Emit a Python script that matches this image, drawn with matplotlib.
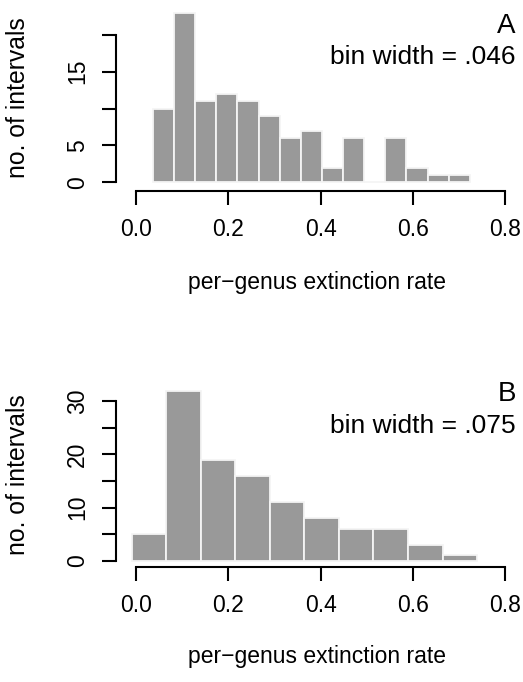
import numpy as np
import matplotlib
matplotlib.use("Agg")
import matplotlib.pyplot as plt

# ---------------- data ----------------
edges_a = [0.0365, 0.0823, 0.1281, 0.1739, 0.2197, 0.2655, 0.3113, 0.3571,
           0.4029, 0.4487, 0.4945, 0.5403, 0.5861, 0.6319, 0.6777, 0.7235]
counts_a = [10, 23, 11, 12, 11, 9, 6, 7, 2, 6, 0, 6, 2, 1, 1]

edges_b = [-0.009, 0.0658, 0.1406, 0.2154, 0.2902, 0.365, 0.4398, 0.5146,
           0.5894, 0.6642, 0.739]
counts_b = [5, 32, 19, 16, 11, 8, 6, 6, 3, 1]

x_ticks = [0.0, 0.2, 0.4, 0.6, 0.8]
x_ticklabels = ["0.0", "0.2", "0.4", "0.6", "0.8"]
y_ticks_a = [0, 5, 10, 15, 20]
y_ticklabels_a = ["0", "5", "", "15", ""]
y_ticks_b = [0, 5, 10, 15, 20, 25, 30]
y_ticklabels_b = ["0", "", "10", "", "20", "", "30"]

panel_letters = ["A", "B"]
bin_texts = ["bin width = .046", "bin width = .075"]
xlabel = "per\u2212genus extinction rate"
ylabel = "no. of intervals"

# ---------------- style ----------------
plt.rcParams['font.family'] = ['Liberation Sans', 'DejaVu Sans']
W, H, DPI = 523, 682, 100
fig = plt.figure(figsize=(W / DPI, H / DPI), dpi=DPI)

BAR = '#999999'
TICK_FS = 16.5
XLAB_FS = 16.5
YLAB_FS = 17.8

# layout in pixels (left, right, top, bottom) and data limits
xlim = (-0.0433, 0.828)
px_left = 116.0
px_right = 136 + 461.5 * 0.828

panels = [
    dict(edges=edges_a, counts=counts_a, yt=y_ticks_a, ytl=y_ticklabels_a,
         ylim=(-1.18, 24.0), top=5.2, bottom=191.0, ybound=(0, 20),
         ly=20.3, by=16.0, xlab_base=289.0),
    dict(edges=edges_b, counts=counts_b, yt=y_ticks_b, ytl=y_ticklabels_b,
         ylim=(-1.24, 33.5), top=382.8, bottom=567.3, ybound=(0, 30),
         ly=30.0, by=24.0, xlab_base=663.0),
]

for i, p in enumerate(panels):
    ax = fig.add_axes([px_left / W, 1 - p['bottom'] / H,
                       (px_right - px_left) / W, (p['bottom'] - p['top']) / H])
    e = np.array(p['edges'])
    ax.bar(e[:-1], p['counts'], width=np.diff(e), align='edge',
           color=BAR, edgecolor='#f4f4f4', linewidth=1.3)
    ax.set_xlim(*xlim)
    ax.set_ylim(*p['ylim'])
    for s in ['top', 'right']:
        ax.spines[s].set_visible(False)
    for s in ['left', 'bottom']:
        ax.spines[s].set_linewidth(1.5)
    ax.spines['bottom'].set_bounds(0, 0.8)
    ax.spines['left'].set_bounds(*p['ybound'])
    ax.set_xticks(x_ticks)
    ax.set_xticklabels(x_ticklabels)
    ax.set_yticks(p['yt'])
    ax.set_yticklabels(p['ytl'], rotation=90, va='center')
    ax.tick_params(direction='out', length=10, width=1.5, pad=9.5,
                   labelsize=TICK_FS, colors='black')

    ax.set_xlabel(xlabel, fontsize=XLAB_FS)
    hA = p['bottom'] - p['top']
    ax.xaxis.set_label_coords(0.5, (p['bottom'] - p['xlab_base']) / hA)
    ax.xaxis.label.set_va('baseline')

    ax.set_ylabel(ylabel, fontsize=YLAB_FS)
    ax.yaxis.set_label_coords((25.5 - px_left) / (px_right - px_left), 0.5)
    ax.yaxis.label.set_rotation_mode('anchor')
    ax.yaxis.label.set_va('baseline')
    ax.yaxis.label.set_ha('center')

    ax.text(0.823, p['ly'], panel_letters[i], fontsize=20, ha='right',
            va='baseline', clip_on=False)
    ax.text(0.823, p['by'], bin_texts[i], fontsize=19, ha='right',
            va='baseline', clip_on=False)

fig.savefig("out.png", dpi=DPI)
